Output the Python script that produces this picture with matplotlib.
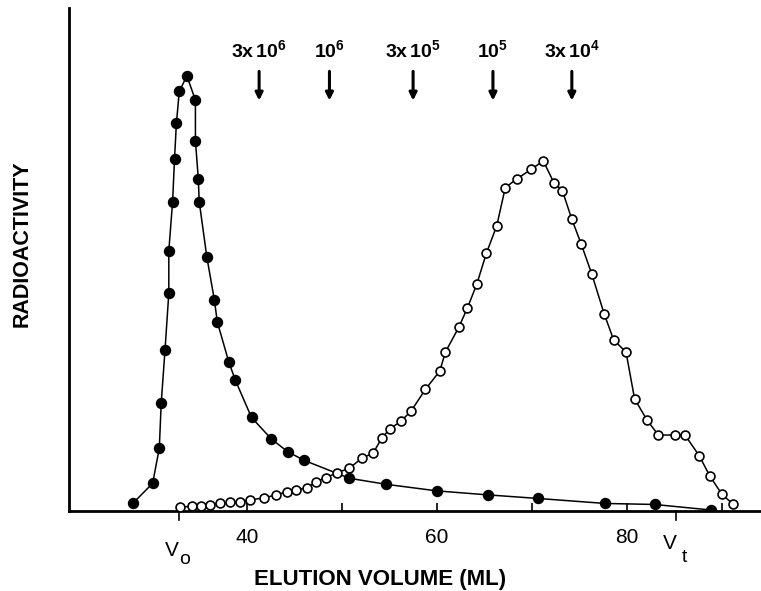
import matplotlib
matplotlib.use('Agg')
import matplotlib.pyplot as plt

# Datos (volumen en mL, radiactividad en unidades arbitrarias 0-100)
vol_cerrado = [28.0, 30.1, 30.8, 31.0, 31.4, 31.8, 31.8, 32.2, 32.4, 32.6, 32.9, 33.7,
               34.6, 34.6, 34.9, 35.0, 35.8, 36.6, 36.9, 38.1, 38.8, 40.5, 42.6, 44.3,
               46.0, 50.8, 54.7, 60.0, 65.4, 70.6, 77.7, 82.9, 88.8]
rad_cerrado = [1.5, 5.5, 12.5, 21.4, 32.0, 43.3, 51.7, 61.5, 70.0, 77.1, 83.4, 86.5,
               81.7, 73.6, 66.1, 61.5, 50.5, 41.9, 37.6, 29.7, 26.0, 18.6, 14.3, 11.8,
               10.1, 6.5, 5.3, 4.0, 3.2, 2.5, 1.5, 1.3, 0.2]

vol_abierto = [33.0, 34.2, 35.2, 36.1, 37.2, 38.2, 39.3, 40.3, 41.8, 43.1, 44.2, 45.2,
               46.3, 47.3, 48.3, 49.5, 50.8, 52.1, 53.3, 54.2, 55.1, 56.2, 57.3, 58.8,
               60.3, 60.9, 62.3, 63.2, 64.2, 65.2, 66.3, 67.2, 68.4, 69.9, 71.2, 72.3,
               73.2, 74.2, 75.2, 76.3, 77.6, 78.6, 79.9, 80.8, 82.1, 83.3, 85.1, 86.1,
               87.6, 88.7, 90.0, 91.2]
rad_abierto = [0.7, 1.0, 1.0, 1.2, 1.5, 1.7, 1.7, 2.2, 2.6, 3.2, 3.8, 4.2,
               4.6, 5.8, 6.6, 7.6, 8.5, 10.5, 11.5, 14.5, 16.4, 17.8, 19.9, 24.2,
               27.8, 31.6, 36.5, 40.3, 45.1, 51.2, 56.7, 64.3, 66.0, 67.9, 69.6, 65.3,
               63.7, 58.0, 53.0, 47.1, 39.2, 34.0, 31.6, 22.3, 18.1, 15.1, 15.1, 15.1,
               11.0, 7.0, 3.3, 1.3]

# Marcadores de peso molecular
marcadores_vol = [41.3, 48.7, 57.5, 65.9, 74.2]
marcadores_txt = [r'$\mathbf{3x\,10^{6}}$', r'$\mathbf{10^{6}}$', r'$\mathbf{3x\,10^{5}}$',
                  r'$\mathbf{10^{5}}$', r'$\mathbf{3x\,10^{4}}$']

ticks_x = [40, 50, 60, 70, 80, 90]
etiquetas_x = {40: '40', 60: '60', 80: '80'}
v0, vt = 32.9, 85.2

plt.rcParams['font.family'] = ['Liberation Sans', 'DejaVu Sans']
plt.rcParams['mathtext.fontset'] = 'custom'
plt.rcParams['mathtext.rm'] = 'Liberation Sans'
plt.rcParams['mathtext.bf'] = 'Liberation Sans:bold'

W, H = 761, 591
fig = plt.figure(figsize=(W / 100, H / 100), dpi=100)
ax = fig.add_axes([69 / W, (H - 511) / H, (W - 69) / W, 503 / H])

ax.plot(vol_cerrado, rad_cerrado, '-o', color='black', lw=1.1,
        markersize=7.2, markerfacecolor='black', markeredgecolor='black', zorder=3)
ax.plot(vol_abierto, rad_abierto, '-o', color='black', lw=1.1,
        markersize=6.4, markerfacecolor='white', markeredgecolor='black',
        markeredgewidth=1.2, zorder=4)

ax.set_xlim(21.3, 94.1)
ax.set_ylim(0, 100)
ax.spines['top'].set_visible(False)
ax.spines['right'].set_visible(False)
ax.spines['left'].set_linewidth(2)
ax.spines['bottom'].set_linewidth(2)
ax.set_yticks([])
ax.set_xticks(ticks_x)
ax.set_xticklabels([])
ax.tick_params(axis='x', direction='in', length=6, width=1.2)

for v in ticks_x:
    if v in etiquetas_x:
        ax.text(v, -5.2, etiquetas_x[v], ha='center', va='center', fontsize=15)

# V0 y Vt: marcas hacia abajo
for v in [v0, vt]:
    ax.plot([v, v], [0, -1.8], color='black', lw=1.2, clip_on=False)
ax.text(v0 - 0.8, -7.8, 'V', ha='center', va='center', fontsize=15)
ax.text(v0 + 0.6, -9.6, 'o', ha='center', va='center', fontsize=14)
ax.text(vt - 0.7, -6.4, 'V', ha='center', va='center', fontsize=15)
ax.text(vt + 0.8, -9.2, 't', ha='center', va='center', fontsize=14)

for v, t in zip(marcadores_vol, marcadores_txt):
    ax.annotate('', xy=(v, 81.6), xytext=(v, 87.4),
                arrowprops=dict(arrowstyle='-|>', color='black', lw=2.2,
                                mutation_scale=11, shrinkA=0, shrinkB=0))
    ax.text(v, 91.7, t, ha='center', va='center', fontsize=14)

fig.text(380 / W, 1 - 580 / H, 'ELUTION VOLUME (ML)', ha='center', va='center',
         fontsize=16, fontweight='bold')
fig.text(22.5 / W, 1 - 244 / H, 'RADIOACTIVITY', ha='center', va='center',
         rotation=90, fontsize=15.5, fontweight='bold')

fig.savefig('out.png', dpi=100)
